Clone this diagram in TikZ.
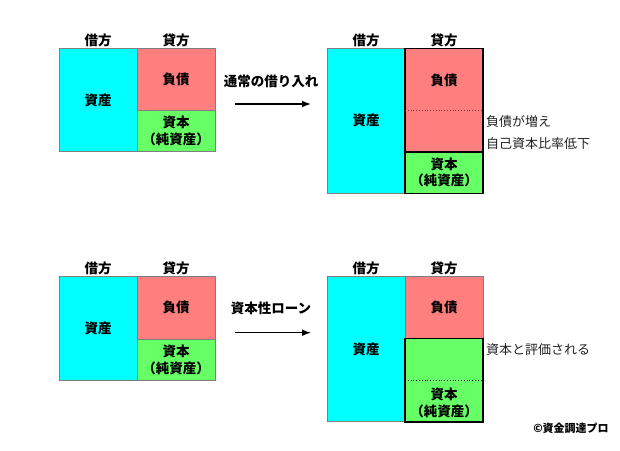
\documentclass[tikz,border=0pt]{standalone}
\usepackage{fontspec}
\setmainfont{Noto Sans CJK JP}
\usepackage{tikz}
\usetikzlibrary{arrows.meta,positioning}
\definecolor{AssetCyan}{HTML}{00FFFF}
\definecolor{DebtRed}{HTML}{FF7F7F}
\definecolor{EquityGreen}{HTML}{66FF66}
\definecolor{EdgeGray}{HTML}{7F7F7F}
\definecolor{NoteGray}{HTML}{222222}

\begin{document}
\begin{tikzpicture}[
      x=1pt,y=-1pt,
      font=\fontsize{13.5}{16.7}\selectfont,
      >=Latex,
      cell/.style={draw=EdgeGray,line width=0.9pt,inner sep=0pt,outer sep=0pt,minimum width=78pt,align=center,font=\fontsize{13.5}{16.7}\selectfont\bfseries},
      assetbox/.style={cell,fill=AssetCyan},
      debtbox/.style={cell,fill=DebtRed},
      equitybox/.style={cell,fill=EquityGreen},
      strong/.style={draw=black,line width=1.6pt},
      head/.style={font=\fontsize{13.5}{16.7}\selectfont\bfseries,inner sep=0pt},
      note/.style={anchor=west,inner sep=0pt,text=NoteGray,font=\fontsize{13}{15}\selectfont},
      arr/.style={->,line width=1.3pt}
    ]
      \path[fill=white] (0,0) rectangle (620,450);
      \useasboundingbox (0,0) rectangle (620,450);

      % top row: ordinary borrowing
      \node[head] (dr1) at (98,40) {借方};
      \node[head] (cr1) at (176,40) {貸方};
      \node[assetbox,minimum height=103.4pt] (a1) at (98,100) {資産};
      \node[debtbox,minimum height=62.4pt] (d1) at (176,79.5) {負債};
      \node[equitybox,minimum height=41pt] (e1) at (176,131.2) {資本\\（純資産）};

      \node[head] (t1) at (271,81.5) {通常の借り入れ};
      \coordinate (s1) at (235,104);
      \coordinate (f1) at (311,104);
      \draw[arr] (s1) -- (f1);

      \node[head] (dr2) at (366,40) {借方};
      \node[head] (cr2) at (444,40) {貸方};
      \node[assetbox,minimum height=145pt] (a2) at (366,120.8) {資産};
      \node[debtbox,strong,minimum height=103.4pt] (d2) at (444,100) {};
      \node[head] (dl2) at (444,80) {負債};
      \node[equitybox,strong,minimum height=41.6pt] (e2) at (444,172.5) {資本\\（純資産）};
      \draw[dotted,line width=0.8pt,draw=DebtRed!45!black] (d2.west |- 0,110.7) -- (d2.east |- 0,110.7);
      \node[note] (n1) at (486,121.7) {負債が増え};
      \node[note] (n2) at (486,143.3) {自己資本比率低下};

      % bottom row: capital-type loan
      \node[head] (dr3) at (98,268.5) {借方};
      \node[head] (cr3) at (176,268.5) {貸方};
      \node[assetbox,minimum height=103.4pt] (a3) at (98,328.4) {資産};
      \node[debtbox,minimum height=62.4pt] (d3) at (176,307.9) {負債};
      \node[equitybox,minimum height=41pt] (e3) at (176,359.6) {資本\\（純資産）};

      \node[head] (t2) at (271,308) {資本性ローン};
      \coordinate (s2) at (235,332.7);
      \coordinate (f2) at (311,332.7);
      \draw[arr] (s2) -- (f2);

      \node[head] (dr4) at (366,268.5) {借方};
      \node[head] (cr4) at (444,268.5) {貸方};
      \node[assetbox,minimum height=145pt] (a4) at (366,349.2) {資産};
      \node[debtbox,minimum height=61.6pt] (d4) at (444,307.5) {負債};
      \node[equitybox,strong,minimum height=83.4pt] (e4) at (444,380) {};
      \node[head,align=center] (el4) at (444,403) {資本\\（純資産）};
      \draw[dotted,line width=0.8pt,draw=black] (e4.west |- 0,380) -- (e4.east |- 0,380);
      \node[note] (n3) at (486,350) {資本と評価される};

      \node[head,font=\fontsize{11}{13}\selectfont\bfseries] (copy) at (571,428) {©資金調達プロ};
    \end{tikzpicture}
\end{document}
